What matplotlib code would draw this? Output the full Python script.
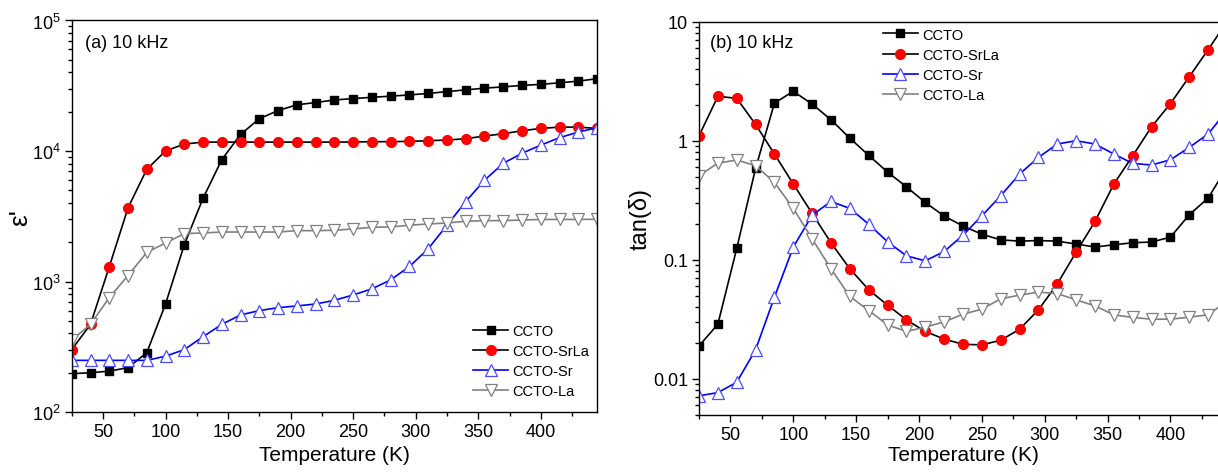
import matplotlib
matplotlib.use("Agg")
import matplotlib.pyplot as plt
from matplotlib.ticker import MultipleLocator, LogLocator, FixedLocator, FixedFormatter, NullFormatter

plt.rcParams["font.family"] = ["Liberation Sans", "DejaVu Sans"]

# temperature grid, 25 K .. 445 K in 15 K steps
temps = [25, 40, 55, 70, 85, 100, 115, 130, 145, 160, 175, 190, 205, 220, 235,
         250, 265, 280, 295, 310, 325, 340, 355, 370, 385, 400, 415, 430, 445]

# (a) real permittivity at 10 kHz
eps_ccto = [197, 200, 206, 219, 285, 673, 1915, 4350, 8590, 13400, 17700, 20400,
            22600, 23500, 24600, 25200, 25800, 26300, 26900, 27600, 28500, 29400,
            30300, 31000, 31800, 32400, 33300, 34300, 35800]
eps_srla = [301, 470, 1297, 3670, 7240, 10000, 11300, 11700, 11700, 11700, 11700,
            11700, 11700, 11700, 11700, 11720, 11790, 11790, 11850, 11990, 12140,
            12420, 13020, 13560, 14300, 14890, 15240, 15240, 14890]
eps_sr = [249, 249, 249, 249, 249, 268, 301, 378, 470, 555, 599, 631, 650, 673,
          718, 789, 879, 1030, 1304, 1783, 2700, 4100, 5970, 8050, 9600, 11100,
          12650, 13970, 15070]
eps_la = [356, 470, 753, 1112, 1671, 1973, 2328, 2356, 2395, 2395, 2395, 2395,
          2455, 2455, 2470, 2530, 2603, 2620, 2700, 2761, 2810, 2895, 2930, 2930,
          2960, 2990, 2990, 2990, 3000]

# (b) loss tangent at 10 kHz
tan_ccto = [0.0189, 0.0288, 0.1245, 0.586, 2.07, 2.60, 2.03, 1.50, 1.05, 0.753,
            0.545, 0.410, 0.303, 0.233, 0.192, 0.164, 0.147, 0.1435, 0.145,
            0.1435, 0.1355, 0.128, 0.1337, 0.139, 0.141, 0.155, 0.239, 0.33, 0.6]
tan_srla = [1.10, 2.36, 2.27, 1.37, 0.773, 0.433, 0.245, 0.139, 0.084, 0.056,
            0.0416, 0.0313, 0.025, 0.0216, 0.0195, 0.0193, 0.0211, 0.0261, 0.038,
            0.0628, 0.116, 0.21, 0.433, 0.748, 1.31, 2.05, 3.45, 5.82, 10.0]
tan_sr = [0.0072, 0.00767, 0.00937, 0.01754, 0.0486, 0.1277, 0.237, 0.309, 0.270,
          0.199, 0.1416, 0.108, 0.098, 0.1175, 0.161, 0.234, 0.345, 0.525, 0.724,
          0.938, 1.0, 0.938, 0.773, 0.645, 0.625, 0.692, 0.879, 1.14, 1.8]
tan_la = [0.508, 0.648, 0.689, 0.617, 0.447, 0.270, 0.150, 0.084, 0.0492, 0.0375,
          0.0284, 0.025, 0.0272, 0.0301, 0.0349, 0.0385, 0.047, 0.0505, 0.0535,
          0.052, 0.0461, 0.041, 0.0345, 0.0328, 0.0317, 0.0317, 0.033, 0.0345, 0.045]

labels = ["CCTO", "CCTO-SrLa", "CCTO-Sr", "CCTO-La"]
tan_ticks = [0.01, 0.1, 1, 10]
tan_tick_labels = ["0.01", "0.1", "1", "10"]

styles = [
    dict(color="black", marker="s", ms=5.5, mfc="black", mec="black"),
    dict(color="black", marker="o", ms=7, mfc="red", mec="red"),
    dict(color="#0000ff", marker="^", ms=8, mfc="white", mec="#4d4dff", mew=0.9),
    dict(color="#808080", marker="v", ms=8, mfc="white", mec="#808080", mew=0.9),
]


def style_axis(ax):
    ax.set_yscale("log")
    ax.set_xlim(25, 445)
    ax.xaxis.set_major_locator(MultipleLocator(50))
    ax.xaxis.set_minor_locator(MultipleLocator(25))
    ax.yaxis.set_minor_locator(LogLocator(base=10, subs=range(2, 10)))
    ax.yaxis.set_minor_formatter(NullFormatter())
    ax.tick_params(which="both", direction="out", top=False, right=False,
                   labelsize=13, width=1, pad=3)
    ax.tick_params(which="major", length=5)
    ax.tick_params(which="minor", length=3)
    for sp in ax.spines.values():
        sp.set_linewidth(1.0)
    ax.set_xlabel("Temperature (K)", fontsize=15)


fig = plt.figure(figsize=(12.18, 4.77), dpi=100)
ax1 = fig.add_axes([0.0589, 0.134, 0.4313, 0.821])
ax2 = fig.add_axes([0.5739, 0.1285, 0.4335, 0.824])

for ys, lab, st in zip([eps_ccto, eps_srla, eps_sr, eps_la], labels, styles):
    ax1.plot(temps, ys, lw=1.2, label=lab, **st)
for ys, lab, st in zip([tan_ccto, tan_srla, tan_sr, tan_la], labels, styles):
    ax2.plot(temps, ys, lw=1.2, label=lab, **st)

style_axis(ax1)
ax1.set_ylim(1e2, 1e5)
ax1.set_ylabel("ε'", fontsize=19)
ax1.yaxis.set_label_coords(-0.075, 0.5)
ax1.xaxis.set_label_coords(0.5, -0.085)
ax1.text(0.025, 0.945, "(a) 10 kHz", transform=ax1.transAxes, fontsize=13,
         va="center", ha="left")
ax1.legend(loc="upper left", bbox_to_anchor=(0.764, 0.225), frameon=False,
           fontsize=10.5, handlelength=2.4, handletextpad=0.3, labelspacing=0.42,
           borderpad=0, borderaxespad=0)

style_axis(ax2)
ax2.set_ylim(0.005, 10)
ax2.yaxis.set_major_locator(FixedLocator(tan_ticks))
ax2.yaxis.set_major_formatter(FixedFormatter(tan_tick_labels))
ax2.set_ylabel("tan(δ)", fontsize=17)
ax2.yaxis.set_label_coords(-0.09, 0.5)
ax2.xaxis.set_label_coords(0.5, -0.078)
ax2.text(0.021, 0.948, "(b) 10 kHz", transform=ax2.transAxes, fontsize=13,
         va="center", ha="left")
ax2.legend(loc="upper left", bbox_to_anchor=(0.348, 0.985), frameon=False,
           fontsize=10.5, handlelength=2.4, handletextpad=0.3, labelspacing=0.42,
           borderpad=0, borderaxespad=0)

fig.savefig("out.png", dpi=100)
